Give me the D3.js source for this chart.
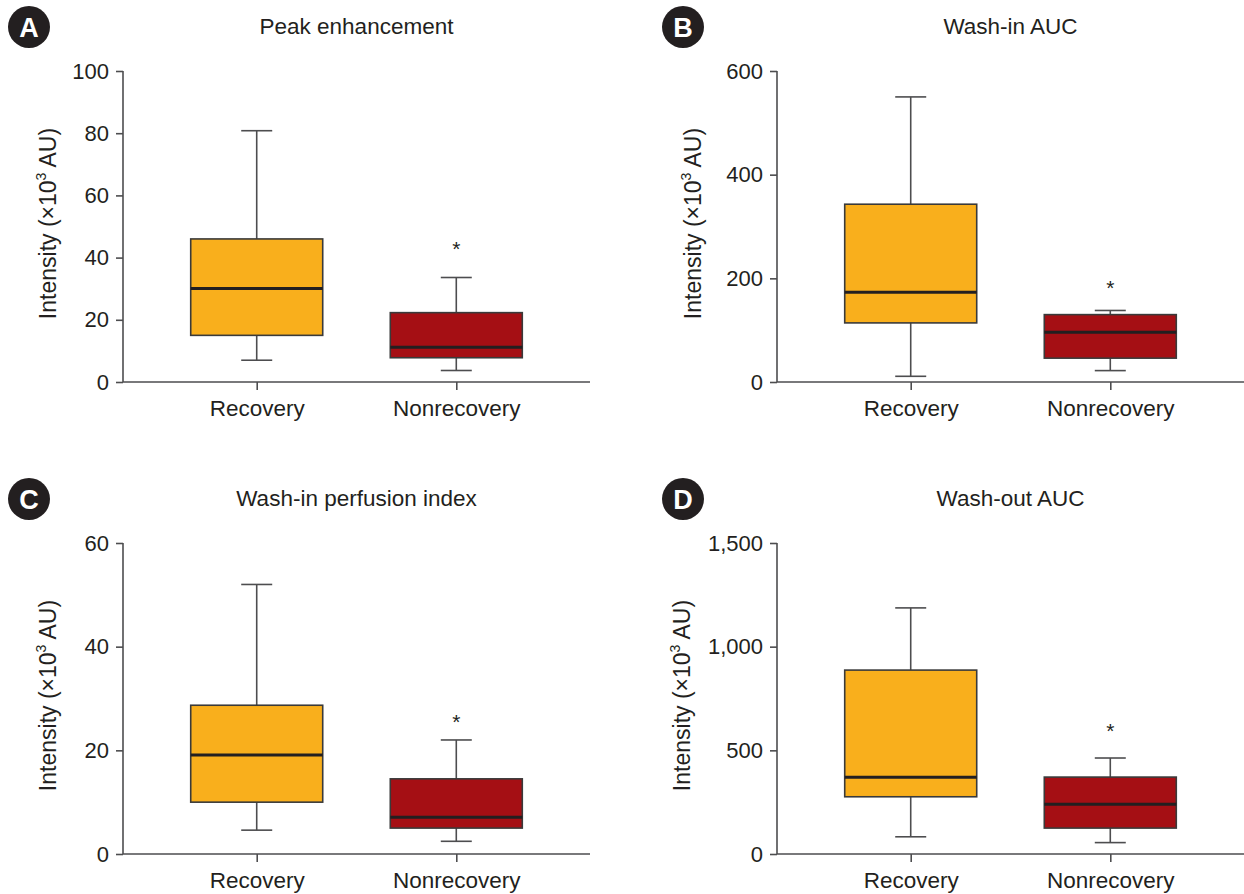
<!DOCTYPE html>
<html>
<head>
<meta charset="utf-8">
<script src="https://cdn.jsdelivr.net/npm/d3@7"></script>
<style>
  html, body { margin: 0; padding: 0; background: #fff; }
  svg { display: block; font-family: "Liberation Sans", Arial, Helvetica, sans-serif; }
</style>
</head>
<body>
<svg id="chart" width="1244" height="894"></svg>
<script>
// ---------- Data ----------
const categories = ["Recovery", "Nonrecovery"];
const panelLetters = ["A", "B", "C", "D"];
const panelTitles = ["Peak enhancement", "Wash-in AUC", "Wash-in perfusion index", "Wash-out AUC"];
const yMaxValues = [100, 600, 60, 1500];
const yTickValues = [
  [0, 20, 40, 60, 80, 100],
  [0, 200, 400, 600],
  [0, 20, 40, 60],
  [0, 500, 1000, 1500]
];
// [min, q1, median, q3, max]
const recoveryStats = [
  [7.0, 15.0, 30.1, 46.0, 80.8],
  [11, 114, 173, 343, 550],
  [4.6, 10.0, 19.1, 28.7, 52.0],
  [83, 276, 370, 887, 1187]
];
const nonrecoveryStats = [
  [3.7, 7.8, 11.2, 22.3, 33.6],
  [22, 46, 96, 130, 138],
  [2.45, 5.0, 7.1, 14.5, 22.0],
  [55, 125, 240, 371, 463]
];
const asteriskValues = [43.9, 190, 26.2, 612];
const yAxisTitle = "Intensity (×10";
const boxColors = ["#F9AF1C", "#A50F14"];

// ---------- Layout ----------
const svg = d3.select("#chart");
const plotW = 467, plotH = 311;
const lefts = [123, 777];
const tops = [71, 543];
const yTitleOffsets = [67, 76, 67, 87];
const boxHalf = 66, capHalf = 15.5;
const textColor = "#231F20";
const lineColor = "#4D4D4F";
const fontFam = "Liberation Sans, Arial, sans-serif";

panelTitles.forEach((title, i) => {
  const col = i % 2, row = Math.floor(i / 2);
  const x0 = lefts[col], y0 = tops[row];
  const g = svg.append("g").attr("transform", `translate(${x0},${y0})`);

  const y = d3.scaleLinear().domain([0, yMaxValues[i]]).range([plotH, 0]);
  const x = d3.scalePoint().domain(categories).range([0, plotW]).padding(0.67);

  // Y axis
  const yAxis = g.append("g")
    .call(d3.axisLeft(y).tickValues(yTickValues[i]).tickSize(7).tickPadding(7)
      .tickFormat(d3.format(",")));
  yAxis.select(".domain").attr("stroke", lineColor).attr("stroke-width", 1.6).attr("d", `M0,0V${plotH}`);
  yAxis.selectAll(".tick line").attr("stroke", lineColor).attr("stroke-width", 1.6);
  yAxis.selectAll(".tick text").attr("fill", textColor).attr("font-size", 22)
    .attr("font-family", fontFam);

  // X axis
  const xAxis = g.append("g").attr("transform", `translate(0,${plotH})`)
    .call(d3.axisBottom(x).tickSize(8).tickPadding(10));
  xAxis.select(".domain").attr("stroke", lineColor).attr("stroke-width", 1.6).attr("d", `M0,0H${plotW}`);
  xAxis.selectAll(".tick line").attr("stroke", lineColor).attr("stroke-width", 1.6);
  xAxis.selectAll(".tick text").attr("fill", textColor).attr("font-size", 22.5)
    .attr("font-family", fontFam);

  // Boxes
  const statsList = [recoveryStats[i], nonrecoveryStats[i]];
  categories.forEach((cat, k) => {
    const s = statsList[k];
    const cx = x(cat);
    const bg = g.append("g");
    bg.append("line").attr("x1", cx).attr("x2", cx).attr("y1", y(s[4])).attr("y2", y(s[3]))
      .attr("stroke", lineColor).attr("stroke-width", 1.6);
    bg.append("line").attr("x1", cx).attr("x2", cx).attr("y1", y(s[1])).attr("y2", y(s[0]))
      .attr("stroke", lineColor).attr("stroke-width", 1.6);
    bg.append("line").attr("x1", cx - capHalf).attr("x2", cx + capHalf).attr("y1", y(s[4])).attr("y2", y(s[4]))
      .attr("stroke", lineColor).attr("stroke-width", 1.6);
    bg.append("line").attr("x1", cx - capHalf).attr("x2", cx + capHalf).attr("y1", y(s[0])).attr("y2", y(s[0]))
      .attr("stroke", lineColor).attr("stroke-width", 1.6);
    bg.append("rect").attr("x", cx - boxHalf).attr("width", boxHalf * 2)
      .attr("y", y(s[3])).attr("height", y(s[1]) - y(s[3]))
      .attr("fill", boxColors[k]).attr("stroke", "#3A3A3A").attr("stroke-width", 1.6);
    bg.append("line").attr("x1", cx - boxHalf).attr("x2", cx + boxHalf).attr("y1", y(s[2])).attr("y2", y(s[2]))
      .attr("stroke", "#231F20").attr("stroke-width", 3);
  });

  // asterisk on Nonrecovery
  g.append("text").attr("x", x(categories[1])).attr("y", y(asteriskValues[i]) + 11)
    .attr("text-anchor", "middle").attr("font-size", 21).attr("fill", textColor).text("*");

  // Title
  svg.append("text").attr("x", x0 + plotW / 2).attr("y", y0 - 37)
    .attr("text-anchor", "middle").attr("font-size", 22.5).attr("fill", textColor).text(title);

  // Y axis title
  const yt = svg.append("text")
    .attr("transform", `translate(${x0 - yTitleOffsets[i]},${y0 + plotH / 2 - 3}) rotate(-90)`)
    .attr("text-anchor", "middle").attr("font-size", 23).attr("fill", textColor);
  yt.append("tspan").text(yAxisTitle);
  yt.append("tspan").attr("font-size", 14).attr("dy", -10).text("3");
  yt.append("tspan").attr("dy", 10).text(" AU)");

  // Panel letter badge
  const bx = x0 - 94, by = y0 - 44;
  svg.append("circle").attr("cx", bx).attr("cy", by).attr("r", 21).attr("fill", "#231F20");
  svg.append("text").attr("x", bx).attr("y", by + 9.5).attr("text-anchor", "middle")
    .attr("font-size", 27).attr("font-weight", "bold").attr("fill", "#fff").text(panelLetters[i]);
});
</script>
</body>
</html>
